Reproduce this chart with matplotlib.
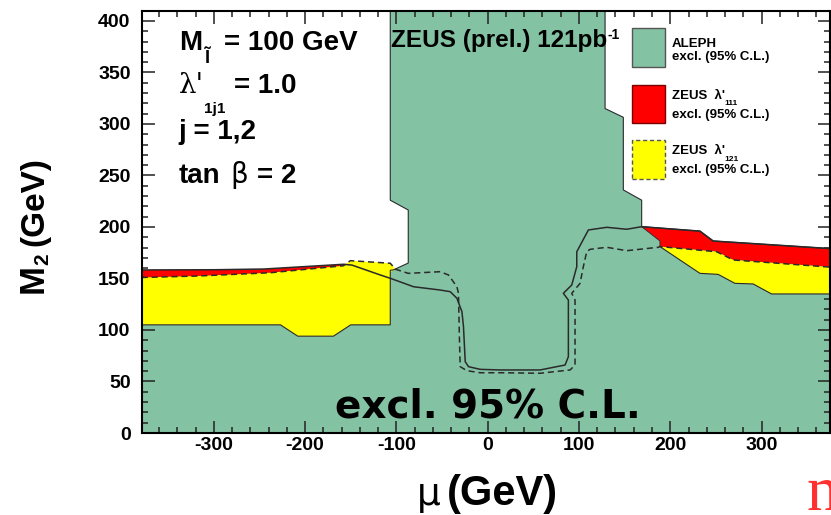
import matplotlib
matplotlib.use('Agg')
import matplotlib.pyplot as plt
from matplotlib.patches import Polygon, Rectangle
from matplotlib.ticker import MultipleLocator

# ---------------- data ----------------
# ALEPH excluded region boundary (mu, M2)
aleph_x = [-379, -379, -227, -208, -169, -150, -106.7, -106.7, -103.4, -87, -87,
           -106.7, -106.7, 128.6, 128.6, 148.6, 148.6, 168.7, 168.7, 232.5, 247,
           376, 376]
aleph_y = [0, 105, 105, 94, 94, 105, 105, 158, 158.3, 165, 216.5,
           226, 415, 415, 315, 306.5, 236, 226, 200.3, 196, 186.4,
           179, 0]

# ZEUS lambda'_111 limit contour (solid)
l111_x = [-379, -300, -245, -158, -148.6, -117.6, -106.7, -81.2, -52, -41, -33.7,
          -28.2, -26.5, -24.6, -21, -8.2, 13.7, 57.4, 84.8, 88.4, 88.4, 82.9,
          92.1, 97.6, 97.6, 110.3, 130.4, 152.3, 168.7, 232.5, 247, 376]
l111_y = [158.3, 158.5, 159.2, 163.8, 163, 153.4, 150.2, 142, 138.8, 137.2, 130.8,
          117.8, 103.2, 69.2, 64.4, 61.8, 61.2, 61.2, 66, 74.1, 129.1, 135.6,
          143.7, 161.5, 176, 197.1, 199.7, 197.8, 200.3, 196, 186.4, 179]

# ZEUS lambda'_121 limit contour (dashed)
l121_x = [-379, -318, -238, -158, -150.4, -106.7, -101, -87, -52, -42.9, -33.7,
          -32, -30.9, -30.1, -22.8, -8.2, 13.7, 57.4, 90.3, 95.7, 95.7, 92.1,
          101.2, 104.8, 108.5, 112.1, 130.4, 152.3, 186.9, 188.7, 250.8, 269, 376]
l121_y = [151, 152.4, 155.6, 162.4, 167.3, 164.8, 159, 155, 156.6, 153.4, 142,
          135.6, 90.3, 64.4, 60.5, 58.5, 58.5, 58, 61.2, 66, 129.1, 135.6,
          145.3, 161.5, 176, 178.3, 180.3, 177, 180.3, 181, 176, 168, 161]

# lower edge of the ZEUS lambda'_121 region (right side)
y121_low_x = [188.7, 232.5, 252.5, 270.8, 290.8, 311, 376]
y121_low_y = [181, 155, 154, 145.3, 144.7, 135, 135]

x_ticks = [-300, -200, -100, 0, 100, 200, 300]
y_ticks = [0, 50, 100, 150, 200, 250, 300, 350, 400]

GREEN = '#84c2a4'
RED = '#ff0000'
YELLOW = '#ffff00'
EDGE = '#2a2a2a'
FONT = 'Liberation Sans'

W, H = 831, 515
fig = plt.figure(figsize=(W / 100, H / 100), dpi=100)
ax = fig.add_axes([141.7 / W, 1 - 433 / H, (830 - 141.7) / W, (433 - 11) / H])
ax.set_xlim(-379, 375)
ax.set_ylim(0, 409.7)

# ALEPH region
aleph_pts = list(zip(aleph_x, aleph_y))
ax.add_patch(Polygon(aleph_pts, closed=True, facecolor=GREEN, edgecolor='none', zorder=1))

# red (lambda'_111) regions
left_red = [(x, y) for x, y in zip(l111_x, l111_y) if x <= -148.6]
left_red += [(-148.6, 120), (-379, 120)]
ax.add_patch(Polygon(left_red, closed=True, facecolor=RED, edgecolor='none', zorder=2))
right_red = [(x, y) for x, y in zip(l111_x, l111_y) if x >= 168.7]
right_red += [(x, y) for x, y in zip(l121_x[::-1], l121_y[::-1]) if x >= 188.7]
right_red += [(188.7, 186.4)]
ax.add_patch(Polygon(right_red, closed=True, facecolor=RED, edgecolor='none', zorder=2))

# yellow (lambda'_121) regions
left_yel = [(x, y) for x, y in zip(l121_x, l121_y) if x <= -101]
left_yel += [(-106.7, 156), (-106.7, 105), (-150, 105), (-169, 94), (-208, 94),
             (-227, 105), (-379, 105)]
ax.add_patch(Polygon(left_yel, closed=True, facecolor=YELLOW, edgecolor='none', zorder=3))
right_yel = [(x, y) for x, y in zip(l121_x, l121_y) if x >= 188.7]
right_yel += list(zip(y121_low_x[::-1], y121_low_y[::-1]))
ax.add_patch(Polygon(right_yel, closed=True, facecolor=YELLOW, edgecolor='none', zorder=3))

# outlines
ax.add_patch(Polygon(aleph_pts, closed=True, fill=False, edgecolor=EDGE, lw=0.8, zorder=4))
ax.plot(y121_low_x, y121_low_y, color=EDGE, lw=0.8, zorder=4)
ax.plot([168.7, 188.7, 188.7], [200.3, 186.4, 181], color=EDGE, lw=0.6, zorder=4)
ax.plot(l111_x, l111_y, color=EDGE, lw=1.1, zorder=5)
ax.plot(l121_x, l121_y, color=EDGE, lw=1.1, ls=(0, (4, 2.5)), zorder=5)

# axes styling
ax.set_xticks(x_ticks)
ax.set_yticks(y_ticks)
ax.set_xticklabels([str(v) for v in x_ticks])
ax.set_yticklabels([str(v) for v in y_ticks])
ax.xaxis.set_minor_locator(MultipleLocator(20))
ax.yaxis.set_minor_locator(MultipleLocator(10))
ax.tick_params(which='both', direction='in', top=True, right=True, width=1.1, color='#222222')
ax.tick_params(which='major', length=9)
ax.tick_params(which='minor', length=4.5)
ax.tick_params(axis='x', pad=3)
ax.tick_params(axis='y', pad=8)
for lab in ax.get_xticklabels() + ax.get_yticklabels():
    lab.set_fontfamily(FONT)
    lab.set_fontweight('bold')
    lab.set_fontsize(14)
for sp in ax.spines.values():
    sp.set_linewidth(1.5)
    sp.set_zorder(10)

def tx(x, y, s, size, weight='bold', family=FONT, **kw):
    ax.text(x, y, s, fontsize=size, fontweight=weight, family=family,
            va='baseline', ha='left', zorder=8, **kw)

# parameter block
tx(-338.5, 372, 'M', 20)
tx(-310, 359, 'Ĩ', 13)
tx(-289, 372, '= 100 GeV', 20)
tx(-338.5, 330, "λ'", 20, weight='normal', family='DejaVu Serif')
tx(-311, 311, '1j1', 11)
tx(-278, 330, '= 1.0', 20)
tx(-338.5, 285, 'j = 1,2', 20)
tx(-338.5, 242.5, 'tan', 20)
tx(-282, 242.5, 'β', 20, weight='normal', family='DejaVu Sans')
tx(-253, 242.5, '= 2', 20)

# experiment label
tx(-105.5, 374.6, 'ZEUS (prel.) 121pb', 17.5)
tx(131.5, 383, '-1', 10)

# legend
ax.add_patch(Rectangle((158.2, 355), 36.3, 38, facecolor=GREEN, edgecolor='#555555', lw=1.0, zorder=8))
ax.add_patch(Rectangle((158.2, 300.8), 36.3, 37, facecolor=RED, edgecolor='#7a0000', lw=1.0, zorder=8))
ax.add_patch(Rectangle((158.2, 247), 36.3, 37, facecolor=YELLOW, edgecolor='#555555', lw=1.0,
                       ls=(0, (3, 2)), zorder=8))
tx(202, 374.6, 'ALEPH', 9.5)
tx(202, 362, 'excl. (95% C.L.)', 9.5)
tx(202, 324, "ZEUS  λ'", 9.5)
tx(259, 318, '111', 6)
tx(202, 306, 'excl. (95% C.L.)', 9.5)
tx(202, 270.5, "ZEUS  λ'", 9.5)
tx(259, 264.5, '121', 6)
tx(202, 252.5, 'excl. (95% C.L.)', 9.5)

# big label
ax.text(0.5, 15, 'excl. 95% C.L.', fontsize=28, fontweight='bold', family='DejaVu Sans',
        ha='center', va='baseline', zorder=8)

# axis titles
fig.text(417 / W, 1 - 505 / H, 'μ', fontsize=27, fontweight='normal', family='DejaVu Sans',
         ha='left', va='baseline')
fig.text(447 / W, 1 - 505 / H, '(GeV)', fontsize=30, fontweight='bold', family=FONT,
         ha='left', va='baseline')
fig.text(50 / W, 1 - 293 / H, 'M', fontsize=25, fontweight='bold', family=FONT,
         rotation=90, ha='right', va='bottom')
fig.text(52 / W, 1 - 265 / H, '2', fontsize=15, fontweight='bold', family=FONT,
         rotation=90, ha='right', va='bottom')
fig.text(50 / W, 1 - 246 / H, '(GeV)', fontsize=24, fontweight='bold', family=FONT,
         rotation=90, ha='right', va='bottom')

# cropped red glyph at the bottom right
fig.text(806 / W, 1 - 510 / H, 'n', fontsize=46, color='#ff3030', family='Liberation Serif',
         ha='left', va='baseline')

fig.savefig('out.png', dpi=100)
